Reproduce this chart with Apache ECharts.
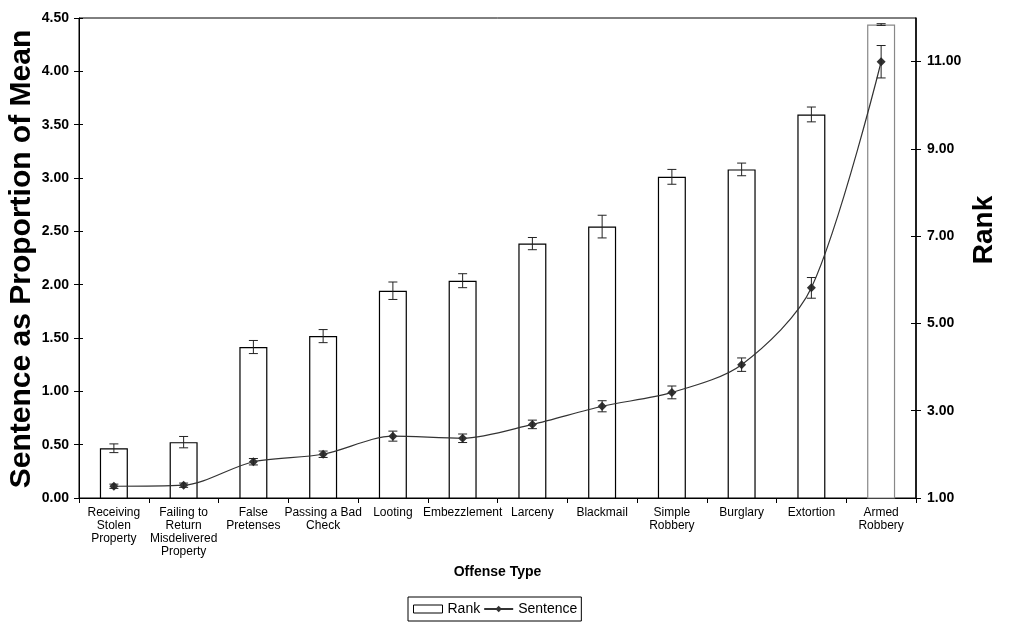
<!DOCTYPE html>
<html>
<head>
<meta charset="utf-8">
<script src="https://cdn.jsdelivr.net/npm/echarts@6/dist/echarts.min.js"></script>
<style>html,body{margin:0;padding:0;background:#fff;}#c{width:1009px;height:626px;}</style>
</head>
<body>
<div id="c"></div>
<script>
const categories = ['Receiving\nStolen\nProperty', 'Failing to\nReturn\nMisdelivered\nProperty', 'False\nPretenses', 'Passing a Bad\nCheck', 'Looting', 'Embezzlement', 'Larceny', 'Blackmail', 'Simple\nRobbery', 'Burglary', 'Extortion', 'Armed\nRobbery'];
const rankMean = [2.14, 2.28, 4.46, 4.71, 5.75, 5.98, 6.83, 7.22, 8.36, 8.53, 9.79, 11.85];
const rankErr = [0.10, 0.13, 0.15, 0.15, 0.20, 0.16, 0.14, 0.26, 0.17, 0.145, 0.17, 0.02];
const sentenceMean = [0.11, 0.12, 0.34, 0.41, 0.58, 0.56, 0.69, 0.86, 0.99, 1.25, 1.97, 4.09];
const sentenceErr = [0.02, 0.02, 0.03, 0.03, 0.047, 0.04, 0.04, 0.052, 0.06, 0.063, 0.097, 0.152];
const leftTicks = [0, 0.5, 1, 1.5, 2, 2.5, 3, 3.5, 4, 4.5];
const rightTicks = [1, 3, 5, 7, 9, 11];

const FONT = "'Liberation Sans', Arial, sans-serif";

function errRender(params, api) {
  const x = api.value(0), lo = api.value(1), hi = api.value(2);
  const a = api.coord([x, lo]), b = api.coord([x, hi]);
  const w = 4.5;
  const st = { stroke: '#222', lineWidth: 1 };
  return { type: 'group', children: [
    { type: 'line', shape: { x1: a[0], y1: a[1], x2: b[0], y2: b[1] }, style: st },
    { type: 'line', shape: { x1: a[0] - w, y1: a[1], x2: a[0] + w, y2: a[1] }, style: st },
    { type: 'line', shape: { x1: b[0] - w, y1: b[1], x2: b[0] + w, y2: b[1] }, style: st }
  ]};
}

const chart = echarts.init(document.getElementById('c'), null, { renderer: 'canvas' });
const option = {
  animation: false,
  backgroundColor: '#fff',
  textStyle: { fontFamily: FONT, color: '#000' },
  grid: { left: 79, right: 93, top: 18, bottom: 128, show: true, borderColor: '#000', borderWidth: 1, backgroundColor: 'transparent' },
  legend: {
    left: 408, top: 597,
    orient: 'horizontal',
    borderColor: '#000', borderWidth: 1, padding: [5, 4, 5, 5],
    itemWidth: 29, itemHeight: 8, itemGap: 3,
    textStyle: { fontFamily: FONT, fontSize: 14, color: '#000' },
    data: [
      { name: 'Rank', icon: 'rect', itemStyle: { color: '#fff', borderColor: '#000', borderWidth: 1 } },
      { name: 'Sentence' }
    ]
  },
  xAxis: {
    type: 'category', data: categories,
    axisLine: { lineStyle: { color: '#000', width: 1 } },
    axisTick: { show: true, length: 5, lineStyle: { color: '#000' } },
    axisLabel: { interval: 0, color: '#000', fontFamily: FONT, fontSize: 12, lineHeight: 13, margin: 8 },
    splitLine: { show: false }
  },
  yAxis: [
    { type: 'value', position: 'left', min: 0, max: 4.5, interval: 0.5,
      axisLine: { show: true, lineStyle: { color: '#000' } },
      axisTick: { show: true, length: 5, lineStyle: { color: '#000' } },
      axisLabel: { color: '#000', fontFamily: FONT, fontSize: 14, fontWeight: 'bold', margin: 10, formatter: v => v.toFixed(2) },
      splitLine: { show: false } },
    { type: 'value', position: 'right', min: 1, max: 12, interval: 2,
      axisLine: { show: true, lineStyle: { color: '#000', width: 1.5 } },
      axisTick: { show: true, length: 5, customValues: rightTicks, lineStyle: { color: '#000' } },
      axisLabel: { color: '#000', fontFamily: FONT, fontSize: 14, fontWeight: 'bold', margin: 11, customValues: rightTicks,
        formatter: v => (rightTicks.indexOf(v) >= 0 ? v.toFixed(2) : '') },
      splitLine: { show: false } },
    { type: 'value', position: 'left', min: 0, max: 4.5, interval: 0.5,
      axisLine: { show: false }, axisLabel: { show: false }, splitLine: { show: false },
      axisTick: { show: true, inside: true, length: 4, lineStyle: { color: '#000' } } },
    { type: 'value', position: 'right', min: 1, max: 12, interval: 2,
      axisLine: { show: false }, axisLabel: { show: false, customValues: rightTicks }, splitLine: { show: false },
      axisTick: { show: true, inside: true, length: 5, customValues: rightTicks, lineStyle: { color: '#000' } } }
  ],
  series: [
    { name: 'Rank', type: 'bar', yAxisIndex: 1, barWidth: 28, clip: true, z: 1,
      data: rankMean.map((v, i) => ({ value: v, itemStyle: i === rankMean.length - 1 ? { borderColor: '#888' } : {} })),
      itemStyle: { color: '#fff', borderColor: '#000', borderWidth: 1.2 } },
    { name: 'RankErr', type: 'custom', yAxisIndex: 1, z: 3,
      renderItem: errRender,
      data: rankMean.map((v, i) => [i, v - rankErr[i], v + rankErr[i]]) },
    { name: 'Sentence', type: 'line', yAxisIndex: 0, z: 4, smooth: 0.3,
      symbol: 'diamond', symbolSize: 9,
      lineStyle: { color: '#333', width: 1.2 },
      itemStyle: { color: '#333' },
      data: sentenceMean },
    { name: 'SentErr', type: 'custom', yAxisIndex: 0, z: 5,
      renderItem: errRender,
      data: sentenceMean.map((v, i) => [i, v - sentenceErr[i], v + sentenceErr[i]]) }
  ],
  graphic: [
    { type: 'text', x: 22, y: 259, rotation: Math.PI / 2,
      style: { text: 'Sentence as Proportion of Mean', font: "bold 30px 'Liberation Sans', Arial, sans-serif", fill: '#000', textAlign: 'center', textVerticalAlign: 'middle' } },
    { type: 'text', x: 984, y: 230, rotation: Math.PI / 2,
      style: { text: 'Rank', font: "bold 28px 'Liberation Sans', Arial, sans-serif", fill: '#000', textAlign: 'center', textVerticalAlign: 'middle' } },
    { type: 'text', x: 497.5, y: 572,
      style: { text: 'Offense Type', font: "bold 14px 'Liberation Sans', Arial, sans-serif", fill: '#000', textAlign: 'center', textVerticalAlign: 'middle' } }
  ]
};
chart.setOption(option);
</script>
</body>
</html>
